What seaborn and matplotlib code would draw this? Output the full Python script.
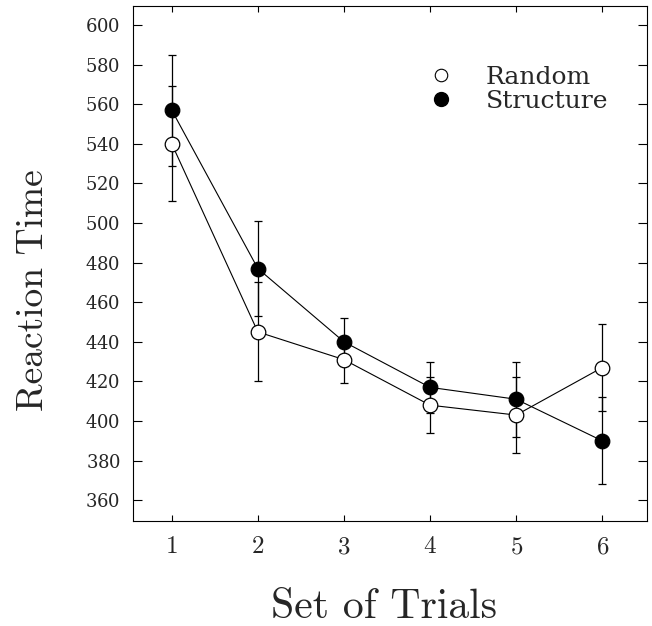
import matplotlib
matplotlib.use('Agg')
import matplotlib.pyplot as plt
from matplotlib.lines import Line2D
import pandas as pd
import seaborn as sns

# Data
trials = [1, 2, 3, 4, 5, 6]
random_rt = [540, 445, 431, 408, 403, 427]
random_err = [29, 25, 12, 14, 19, 22]
structure_rt = [557, 477, 440, 417, 411, 390]
structure_err = [28, 24, 12, 13, 19, 22]
y_ticks = list(range(360, 601, 20))

df = pd.DataFrame({
    'trial': trials * 2,
    'rt': random_rt + structure_rt,
    'err': random_err + structure_err,
    'group': ['Random'] * 6 + ['Structure'] * 6,
})

sns.set_style('ticks')
plt.rcParams['font.family'] = ['DejaVu Serif']
plt.rcParams['axes.formatter.use_mathtext'] = True

fig = plt.figure(figsize=(6.52, 6.26), dpi=100)
ax = fig.add_axes([133 / 652, 1 - 521 / 626, (647 - 133) / 652, (521 - 6) / 626])

# error bars first so markers sit on top
for name, g in df.groupby('group'):
    ax.errorbar(g['trial'], g['rt'], yerr=g['err'], fmt='none',
                ecolor='black', elinewidth=0.9, capsize=3, capthick=0.9, zorder=1)

sns.lineplot(data=df, x='trial', y='rt', hue='group', style='group',
             palette={'Random': 'black', 'Structure': 'black'},
             markers={'Random': 'o', 'Structure': 'o'},
             dashes={'Random': '', 'Structure': ''},
             linewidth=0.8, markersize=10.5, ax=ax, legend=False, zorder=2)

# open markers for Random, filled for Structure
for line, face in zip(ax.get_lines()[-2:], ['white', 'black']):
    line.set_markerfacecolor(face)
    line.set_markeredgecolor('black')
    line.set_markeredgewidth(0.9)

ax.set_xlim(0.55, 6.52)
ax.set_ylim(349.5, 609.6)
ax.set_xticks(trials)
ax.set_yticks(y_ticks)
ax.tick_params(axis='both', direction='in', width=0.8, top=True, right=True, color='black')
ax.tick_params(axis='y', length=6.5, labelsize=13, pad=9)
ax.tick_params(axis='x', length=4, pad=11)
for lbl in ax.get_xticklabels():
    lbl.set_fontfamily('cmr10')
    lbl.set_fontsize(18)
for s in ax.spines.values():
    s.set_linewidth(0.8)
    s.set_color('black')

ax.set_xlabel('Set of Trials', fontfamily='cmr10', fontsize=30)
ax.set_ylabel('Reaction Time', fontfamily='cmr10', fontsize=27)
ax.xaxis.set_label_coords(0.488, -0.132)
ax.yaxis.set_label_coords(-0.161, 0.449)

handles = [
    Line2D([], [], marker='o', linestyle='', markersize=9, markerfacecolor='white',
           markeredgecolor='black', markeredgewidth=0.8),
    Line2D([], [], marker='o', linestyle='', markersize=10, markerfacecolor='black',
           markeredgecolor='black'),
]
ax.legend(handles, ['Random', 'Structure'], loc='upper left',
          bbox_to_anchor=(0.551, 0.908), frameon=False, borderpad=0,
          handlelength=1, handletextpad=1.29, labelspacing=0.05,
          prop={'family': 'DejaVu Serif', 'size': 18})

fig.savefig('out.png', dpi=100)
